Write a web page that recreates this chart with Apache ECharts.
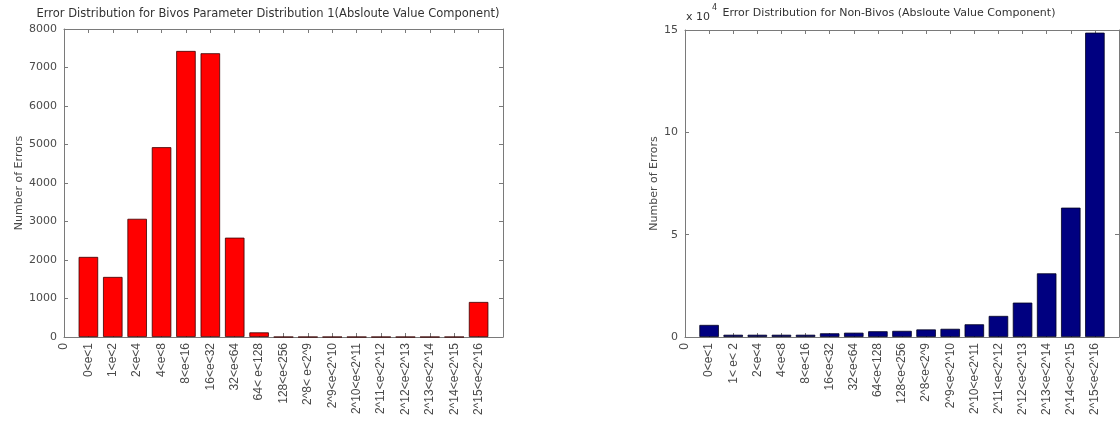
<!DOCTYPE html>
<html>
<head>
<meta charset="utf-8">
<script src="https://cdn.jsdelivr.net/npm/echarts@6/dist/echarts.min.js"></script>
<style>
  html, body { margin: 0; padding: 0; background: #ffffff; }
  #chart { width: 1120px; height: 421px; }
</style>
</head>
<body>
<div id="chart"></div>
<script>
// Error-range bins shared by both panels (tick 0 carries the lone "0" label)
const binLabels = [
  '0', '0<e<1', '1<e<2', '2<e<4', '4<e<8', '8<e<16', '16<e<32', '32<e<64',
  '64< e<128', '128<e<256', '2^8< e<2^9', '2^9<e<2^10', '2^10<e<2^11',
  '2^11<e<2^12', '2^12<e<2^13', '2^13<e<2^14', '2^14<e<2^15', '2^15<e<2^16'
];
const binLabelsNonBivos = [
  '0', '0<e<1', '1< e< 2', '2<e<4', '4<e<8', '8<e<16', '16<e<32', '32<e<64',
  '64<e<128', '128<e<256', '2^8<e<2^9', '2^9<e<2^10', '2^10<e<2^11',
  '2^11<e<2^12', '2^12<e<2^13', '2^13<e<2^14', '2^14<e<2^15', '2^15<e<2^16'
];

// Number of errors per bin, Bivos parameter distribution 1
const bivosCounts = [2080, 1560, 3070, 4930, 7430, 7370, 2580, 120, 0, 0, 0, 0, 0, 0, 0, 0, 910];

// Number of errors per bin, Non-Bivos (in units of 10^4)
const nonBivosCounts = [0.59, 0.11, 0.11, 0.11, 0.11, 0.18, 0.21, 0.28, 0.30, 0.37, 0.40, 0.62, 1.03, 1.68, 3.11, 6.32, 14.87];

const leftTicks = [0, 1000, 2000, 3000, 4000, 5000, 6000, 7000, 8000];
const rightTicks = [0, 5, 10, 15];

const SANS = 'Liberation Sans, Arial, sans-serif';
const WIDE = 'DejaVu Sans, sans-serif';
const TEXT = '#4a4a4a';
const LINE = '#7a7a7a';

const chart = echarts.init(document.getElementById('chart'), null, { renderer: 'canvas' });

function xAxes(gridIndex, labels) {
  const base = {
    type: 'value', gridIndex, min: 0, max: 18, interval: 1,
    axisLine: { show: true, onZero: false, lineStyle: { color: LINE, width: 1 } },
    axisTick: { show: true, inside: true, length: 4, lineStyle: { color: LINE } },
    splitLine: { show: false }
  };
  return [
    Object.assign({}, base, {
      position: 'bottom',
      axisLabel: {
        show: true, rotate: 90, margin: 6, fontSize: 12, fontFamily: SANS, color: TEXT,
        showMaxLabel: true, showMinLabel: true,
        formatter: v => (labels[v] !== undefined ? labels[v] : '')
      }
    }),
    Object.assign({}, base, { position: 'top', axisLabel: { show: false } })
  ];
}

function yAxes(gridIndex, ticks, name, gap) {
  const base = {
    type: 'value', gridIndex,
    min: ticks[0], max: ticks[ticks.length - 1], interval: ticks[1] - ticks[0],
    axisLine: { show: true, onZero: false, lineStyle: { color: LINE, width: 1 } },
    axisTick: { show: true, inside: true, length: 4, lineStyle: { color: LINE } },
    splitLine: { show: false }
  };
  return [
    Object.assign({}, base, {
      position: 'left',
      name, nameLocation: 'middle', nameGap: gap,
      nameTextStyle: { fontSize: 11, fontFamily: WIDE, color: TEXT },
      axisLabel: {
        show: true, margin: 7, fontSize: 11, fontFamily: WIDE, color: TEXT,
        formatter: v => String(v)
      }
    }),
    Object.assign({}, base, { position: 'right', axisLabel: { show: false } })
  ];
}

const xa = [].concat(xAxes(0, binLabels), xAxes(1, binLabelsNonBivos));
const ya = [].concat(
  yAxes(0, leftTicks, 'Number of Errors', 38),
  yAxes(1, rightTicks, 'Number of Errors', 23)
);

chart.setOption({
  animation: false,
  backgroundColor: '#ffffff',
  title: [
    {
      text: 'Error Distribution for Bivos Parameter Distribution 1(Absloute Value Component)',
      left: 263, top: 3, textAlign: 'center',
      textStyle: { fontSize: 11.5, fontWeight: 'normal', fontFamily: WIDE, color: '#333' }
    },
    {
      text: 'Error Distribution for Non-Bivos (Absloute Value Component)',
      left: 884, top: 3, textAlign: 'center',
      textStyle: { fontSize: 11, fontWeight: 'normal', fontFamily: WIDE, color: '#333' }
    }
  ],
  grid: [
    { left: 64, top: 29, width: 439, height: 308, containLabel: false },
    { left: 685, top: 30, width: 434, height: 307, containLabel: false }
  ],
  xAxis: xa,
  yAxis: ya,
  graphic: [
    { type: 'text', left: 686, top: 12,
      style: { text: 'x 10', fontSize: 11, fontFamily: WIDE, fill: '#333' } },
    { type: 'text', left: 712, top: 4,
      style: { text: '4', fontSize: 8, fontFamily: WIDE, fill: '#333' } }
  ],
  series: [
    {
      type: 'bar', xAxisIndex: 0, yAxisIndex: 0, barWidth: 19.5,
      data: bivosCounts.map((v, i) => [i + 1, v]),
      itemStyle: { color: '#ff0000', borderColor: '#3a0000', borderWidth: 0.8 }
    },
    {
      type: 'bar', xAxisIndex: 2, yAxisIndex: 2, barWidth: 19.5,
      data: nonBivosCounts.map((v, i) => [i + 1, v]),
      itemStyle: { color: '#000080', borderColor: '#000020', borderWidth: 0.8 }
    }
  ]
});
</script>
</body>
</html>
